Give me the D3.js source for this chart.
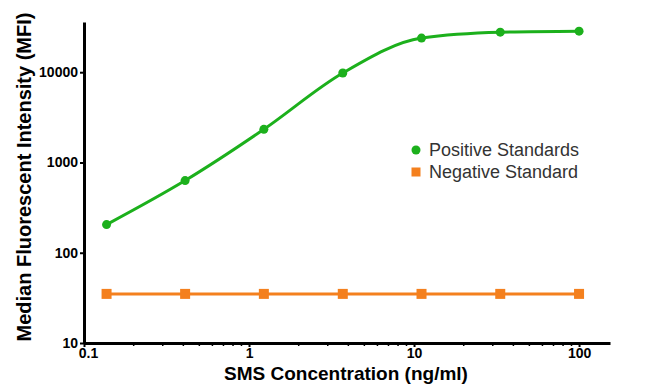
<!DOCTYPE html>
<html>
<head>
<meta charset="utf-8">
<script src="https://cdn.jsdelivr.net/npm/d3@7"></script>
<style>
  body { margin: 0; background: #fff; }
  text { font-family: "Liberation Sans", Arial, sans-serif; }
</style>
</head>
<body>
<div id="chart"></div>
<script>
// concentrations (ng/ml), 3-fold dilution series
var concentrations = [0.137, 0.41, 1.23, 3.7, 11.1, 33.3, 100];
var positiveMFI = [205, 630, 2330, 9800, 23900, 27800, 28500];
var negativeMFI = [35, 35, 35, 35, 35, 35, 35];
var xTickValues = [0.1, 1, 10, 100];
var yTickValues = [10, 100, 1000, 10000];
var seriesNames = ["Positive Standards", "Negative Standard"];

var W = 650, H = 390;
var margin = {top: 22, right: 40, bottom: 47, left: 84};
var width = W - margin.left - margin.right,
    height = H - margin.top - margin.bottom;

var svg = d3.select("#chart").append("svg")
    .attr("width", W)
    .attr("height", H);

var g = svg.append("g")
    .attr("transform", "translate(" + margin.left + "," + margin.top + ")");

var x = d3.scaleLog().domain([0.1, 154]).range([0, width]);
var y = d3.scaleLog().domain([10, 36000]).range([height, 0]);

// minor ticks on x
var minorX = [];
[0.1, 1, 10, 100].forEach(function (d) {
    for (var k = 2; k <= 9; k++) {
        if (d * k <= 154) minorX.push(d * k);
    }
});
g.selectAll(".minor-x")
    .data(minorX)
    .enter().append("line")
    .attr("x1", function (d) { return x(d); })
    .attr("x2", function (d) { return x(d); })
    .attr("y1", height)
    .attr("y2", height + 3)
    .attr("stroke", "#000")
    .attr("stroke-width", 1.5);

// x axis
var xAxis = g.append("g")
    .attr("transform", "translate(0," + height + ")")
    .call(d3.axisBottom(x).tickValues(xTickValues).tickFormat(d3.format("~g")).tickSize(4).tickSizeOuter(0));
xAxis.select(".domain").attr("stroke-width", 3);
xAxis.selectAll(".tick line").attr("stroke-width", 2);
xAxis.selectAll(".tick text")
    .attr("font-size", 14).attr("font-weight", "bold").attr("fill", "#000")
    .attr("y", 5).attr("dy", "0.71em")
    .attr("x", function (d) { return d === 0.1 ? 4 : 0; });

// y axis
var yAxis = g.append("g")
    .call(d3.axisLeft(y).tickValues(yTickValues).tickFormat(d3.format("d")).tickSize(4).tickSizeOuter(0));
yAxis.select(".domain").attr("stroke-width", 3);
yAxis.selectAll(".tick line").attr("stroke-width", 2);
yAxis.selectAll(".tick text")
    .attr("font-size", 14).attr("font-weight", "bold").attr("fill", "#000")
    .attr("x", -6);

// axis titles
svg.append("text")
    .attr("x", 346)
    .attr("y", 380)
    .attr("text-anchor", "middle")
    .attr("font-size", 19).attr("font-weight", "bold")
    .text("SMS Concentration (ng/ml)");

svg.append("text")
    .attr("transform", "translate(31,177) rotate(-90)")
    .attr("text-anchor", "middle")
    .attr("font-size", 20).attr("font-weight", "bold")
    .text("Median Fluorescent Intensity (MFI)");

var green = "#1cb01c", orange = "#f4801e";

var posData = concentrations.map(function (c, i) { return {c: c, v: positiveMFI[i]}; });
var negData = concentrations.map(function (c, i) { return {c: c, v: negativeMFI[i]}; });

var line = d3.line()
    .x(function (d) { return x(d.c); })
    .y(function (d) { return y(d.v); });

// negative standard
g.append("path")
    .datum(negData)
    .attr("fill", "none")
    .attr("stroke", orange)
    .attr("stroke-width", 3)
    .attr("d", line);
g.selectAll(".neg")
    .data(negData)
    .enter().append("rect")
    .attr("x", function (d) { return x(d.c) - 5; })
    .attr("y", function (d) { return y(d.v) - 5; })
    .attr("width", 10)
    .attr("height", 10)
    .attr("fill", orange);

// positive standards, smooth fit
g.append("path")
    .datum(posData)
    .attr("fill", "none")
    .attr("stroke", green)
    .attr("stroke-width", 3)
    .attr("d", line.curve(d3.curveMonotoneX));
g.selectAll(".pos")
    .data(posData)
    .enter().append("circle")
    .attr("cx", function (d) { return x(d.c); })
    .attr("cy", function (d) { return y(d.v); })
    .attr("r", 4.5)
    .attr("fill", green);

// legend
var legend = svg.append("g").attr("transform", "translate(416,150)");
legend.append("circle").attr("cx", 0).attr("cy", 0).attr("r", 4.5).attr("fill", green);
legend.append("rect").attr("x", -4.5).attr("y", 17.5).attr("width", 9).attr("height", 9).attr("fill", orange);
legend.selectAll(".lt")
    .data(seriesNames)
    .enter().append("text")
    .attr("x", 13)
    .attr("y", function (d, i) { return i * 22 + 6; })
    .attr("font-size", 18)
    .attr("fill", "#333")
    .text(function (d) { return d; });
</script>
</body>
</html>
